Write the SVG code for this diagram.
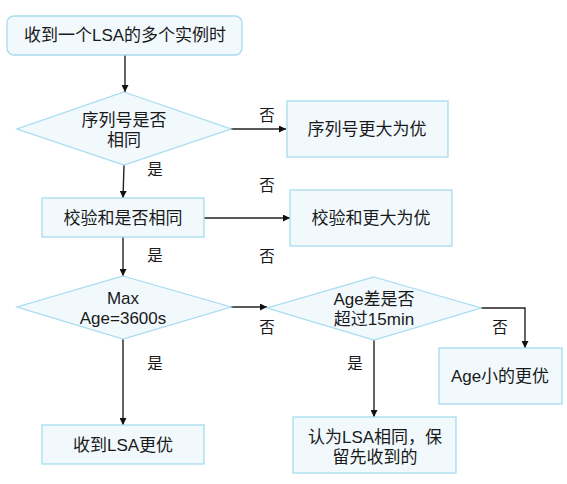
<svg xmlns="http://www.w3.org/2000/svg" width="567" height="484" viewBox="0 0 567 484">
<style>
.n{fill:#f1f9fd;stroke:#a6dcef;stroke-width:1.3}
.t{font-family:"Liberation Sans","Noto Sans CJK SC",sans-serif;font-size:17px;fill:#1a1a1a;text-anchor:middle}
.l{font-family:"Liberation Sans","Noto Sans CJK SC",sans-serif;font-size:15.5px;fill:#1a1a1a;text-anchor:middle}
.c{fill:none;stroke:#222;stroke-width:1.4;marker-end:url(#a)}
</style>
<defs>
<marker id="a" viewBox="0 0 10 10" refX="10" refY="5" markerWidth="7" markerHeight="7" markerUnits="userSpaceOnUse" orient="auto">
<path d="M0,0 L10,5 L0,10 z" fill="#111"/>
</marker>
</defs>
<rect width="567" height="484" fill="#fff"/>
<g id="connectors">
<path class="c" d="M125,55 V92"/>
<path class="c" d="M231,129 H286"/>
<path class="c" d="M124,165 L123,198"/>
<path class="c" d="M204,218 H290"/>
<path class="c" d="M123,237 V276"/>
<path class="c" d="M231,307 H267"/>
<path class="c" d="M123,339 V425"/>
<path class="c" d="M481,308 H525 V348"/>
<path class="c" d="M374,340 V417"/>
</g>
<g id="labels">
<text class="l" x="267" y="121">否</text>
<text class="l" x="155" y="175">是</text>
<text class="l" x="267" y="191">否</text>
<text class="l" x="155" y="261">是</text>
<text class="l" x="267" y="262">否</text>
<text class="l" x="267" y="333">否</text>
<text class="l" x="500" y="333">否</text>
<text class="l" x="155" y="369">是</text>
<text class="l" x="355" y="369">是</text>
</g>
<g id="start"><rect class="n" x="7" y="16" width="235" height="39" rx="7"/><text class="t" x="125" y="41">收到一个LSA的多个实例时</text></g>
<g id="d1"><polygon class="n" points="124,92 231,129 124,165 17,129"/><text class="t" x="124" y="126">序列号是否</text><text class="t" x="124" y="146">相同</text></g>
<g id="b1"><rect class="n" x="287" y="101" width="161" height="56"/><text class="t" x="367" y="135">序列号更大为优</text></g>
<g id="b2"><rect class="n" x="42" y="198" width="162" height="39"/><text class="t" x="123" y="224">校验和是否相同</text></g>
<g id="b3"><rect class="n" x="290" y="190" width="162" height="56"/><text class="t" x="371" y="224">校验和更大为优</text></g>
<g id="d2"><polygon class="n" points="123,276 231,307 123,339 17,307"/><text class="t" x="123" y="304">Max</text><text class="t" x="123" y="324">Age=3600s</text></g>
<g id="d3"><polygon class="n" points="374,277 481,308 374,340 267,308"/><text class="t" x="374" y="305">Age差是否</text><text class="t" x="374" y="325">超过15min</text></g>
<g id="b4"><rect class="n" x="42" y="425" width="162" height="39"/><text class="t" x="123" y="451">收到LSA更优</text></g>
<g id="b5"><rect class="n" x="439" y="348" width="123" height="56"/><text class="t" x="500" y="382">Age小的更优</text></g>
<g id="b6"><rect class="n" x="293" y="417" width="163" height="56"/><text class="t" x="375" y="443">认为LSA相同，保</text><text class="t" x="375" y="463">留先收到的</text></g>
</svg>
